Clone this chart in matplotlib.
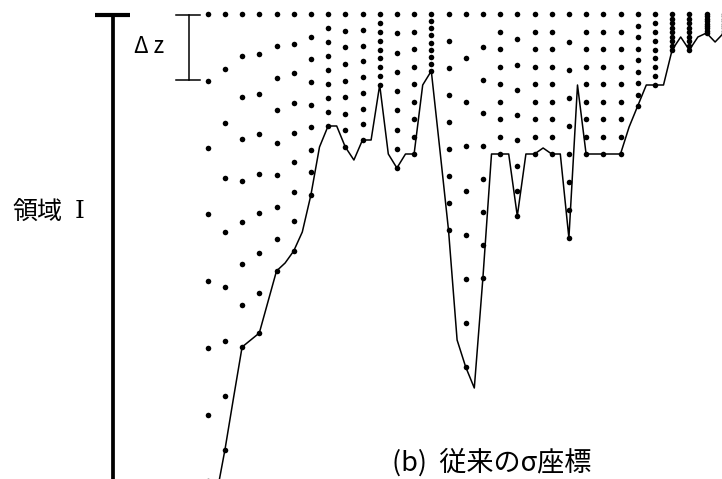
import numpy as np
import matplotlib.pyplot as plt

plt.rcParams['font.family'] = ['Noto Sans CJK JP', 'DejaVu Sans']

# bottom depth below the free surface, sampled every half column
depth = [534, 482, 436, 384, 333, 326, 319, 288, 257, 249,
         237, 218, 181, 133, 112, 112, 133, 146, 126, 126,
         71, 140, 154, 140, 140, 71, 57, 136, 216, 326,
         353, 374, 264, 140, 140, 140, 202, 140, 140, 134,
         140, 140, 224, 71, 140, 140, 140, 140, 140, 113,
         92, 71, 71, 71, 36, 23, 36, 23, 19, 28, 19]
n_layers = 8

depth = np.array(depth, dtype=float)
x_line = np.arange(len(depth)) / 2.0
col_depth = depth[::2]
x_col = np.arange(len(col_depth))
sigma = np.linspace(0, 1, n_layers + 1)

fig = plt.figure(figsize=(7.22, 4.79), dpi=100)
ax = fig.add_axes([0, 0, 1, 1])
ax.set_xlim(-207.7 / 17.2, (722 - 207.7) / 17.2)
ax.set_ylim(465, -14)
ax.axis('off')

# sea bottom
ax.plot(x_line, depth, color='black', lw=1.1, zorder=2)

# sigma levels in every column
for xc, d in zip(x_col, col_depth):
    ax.plot(np.full_like(sigma, xc), sigma * d, 'o', color='black',
            markersize=4.0, markeredgewidth=0, zorder=3)

# whole-depth bar for region I
ax.plot([-5.49, -5.49], [0.5, 466], color='black', lw=2.7,
        solid_capstyle='butt')
ax.plot([-6.53, -4.52], [0.5, 0.5], color='black', lw=3.0,
        solid_capstyle='butt')

# layer thickness bracket of the deepest column
dz = 530 / n_layers
ax.plot([-1.105, -1.105], [1, dz], color='black', lw=1.1)
for yy in (1, dz):
    ax.plot([-1.83, -0.47], [yy, yy], color='black', lw=1.1)
ax.text(-3.41, 32.7, 'Δ z', fontsize=16, ha='center', va='center')

ax.text(-11.34, 197.7, '領域', fontsize=18, ha='left', va='center')
ax.text(-7.75, 197.7, 'I', fontsize=18, ha='left', va='center',
        family='DejaVu Serif')
ax.text(16.5, 449, '(b)  従来のσ座標', fontsize=19.5, ha='center',
        va='center')

fig.savefig('out.png', dpi=100)
